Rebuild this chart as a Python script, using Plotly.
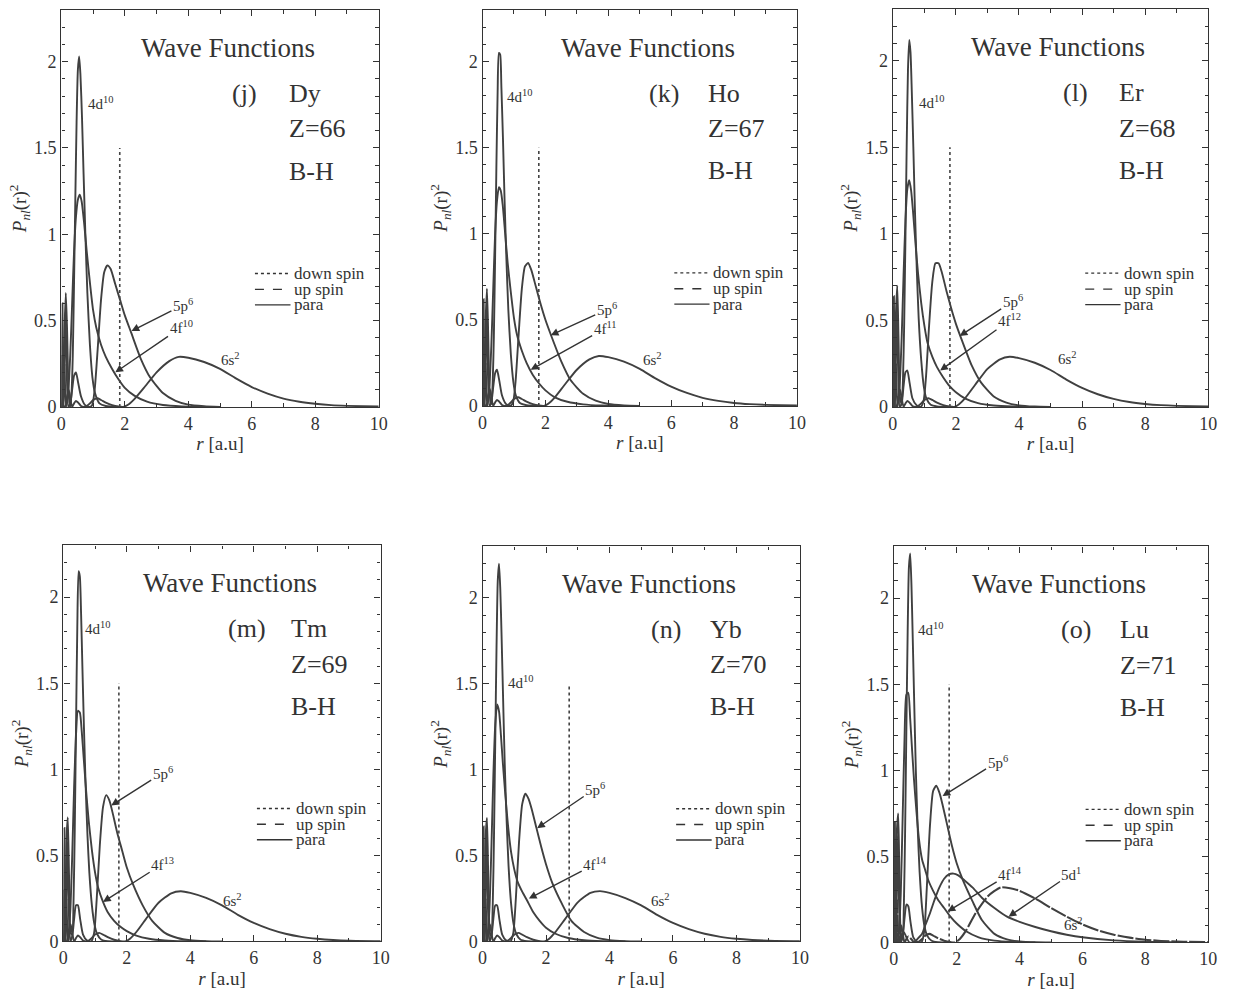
import plotly.graph_objects as go

W, H = 1237, 999

# ---------------- data ----------------
ELEMENTS = ["Dy", "Ho", "Er", "Tm", "Yb", "Lu"]
PANEL_TAGS = ["(j)", "(k)", "(l)", "(m)", "(n)", "(o)"]
Z_NUMBERS = [66, 67, 68, 69, 70, 71]
F_OCCUPATION = [10, 11, 12, 13, 14, 14]
MARKER_R = [1.84, 1.79, 1.81, 1.75, 2.73, 1.76]
MARKER_TOP = [1.5, 1.5, 1.5, 1.5, 1.5, 1.5]

X_TICKS = [0, 2, 4, 6, 8, 10]
Y_TICKS = [0, 0.5, 1, 1.5, 2]

# 4d^10
R_4D = [0.00, 0.05, 0.10, 0.14, 0.18, 0.23, 0.28, 0.32, 0.36, 0.40, 0.44, 0.48, 0.52,
        0.56, 0.60, 0.65, 0.70, 0.76, 0.82, 0.90, 0.98, 1.06, 1.20, 1.40, 1.80]
P4D_DY = [0, 0.05, 0.45, 0.66, 0.45, 0.08, 0.0, 0.08, 0.3, 0.72, 1.2, 1.65, 1.95,
          2.03, 1.93, 1.68, 1.35, 0.98, 0.66, 0.36, 0.17, 0.08, 0.02, 0.005, 0]
P4D_HO = [0, 0.06, 0.5, 0.68, 0.42, 0.06, 0.01, 0.12, 0.4, 0.86, 1.38, 1.82, 2.05,
          2.04, 1.85, 1.55, 1.2, 0.85, 0.56, 0.3, 0.14, 0.06, 0.015, 0.004, 0]
P4D_ER = [0, 0.07, 0.55, 0.7, 0.4, 0.05, 0.02, 0.15, 0.48, 0.98, 1.52, 1.95, 2.12,
          2.05, 1.83, 1.5, 1.14, 0.79, 0.51, 0.27, 0.12, 0.05, 0.012, 0.003, 0]
P4D_TM = [0, 0.08, 0.6, 0.72, 0.38, 0.05, 0.04, 0.22, 0.65, 1.25, 1.82, 2.15, 2.12,
          1.9, 1.6, 1.24, 0.92, 0.62, 0.4, 0.21, 0.1, 0.045, 0.01, 0.002, 0]
P4D_YB = [0, 0.08, 0.62, 0.72, 0.37, 0.05, 0.03, 0.2, 0.6, 1.15, 1.7, 2.1, 2.2,
          2.05, 1.78, 1.4, 1.03, 0.7, 0.44, 0.22, 0.1, 0.045, 0.01, 0.002, 0]
P4D_LU = [0, 0.09, 0.66, 0.75, 0.36, 0.05, 0.04, 0.22, 0.66, 1.25, 1.8, 2.18, 2.26,
          2.08, 1.78, 1.38, 1.0, 0.66, 0.41, 0.2, 0.09, 0.04, 0.01, 0.002, 0]

# 4f^n
R_4F = [0.00, 0.10, 0.16, 0.22, 0.28, 0.34, 0.40, 0.46, 0.52, 0.58, 0.64, 0.72, 0.80,
        0.90, 1.00, 1.10, 1.25, 1.40, 1.60, 1.80, 2.00, 2.30, 2.70, 3.20, 3.80, 4.50]
P4F_DY = [0, 0.0, 0.02, 0.1, 0.3, 0.6, 0.9, 1.1, 1.2, 1.23, 1.19, 1.06, 0.9,
          0.72, 0.56, 0.46, 0.36, 0.29, 0.22, 0.16, 0.11, 0.065, 0.03, 0.011, 0.003, 0]
P4F_HO = [0, 0.0, 0.025, 0.12, 0.35, 0.68, 1.0, 1.19, 1.27, 1.25, 1.17, 1.0, 0.83,
          0.66, 0.51, 0.41, 0.32, 0.25, 0.18, 0.13, 0.09, 0.05, 0.024, 0.009, 0.002, 0]
P4F_ER = [0, 0.0, 0.03, 0.14, 0.4, 0.76, 1.08, 1.26, 1.31, 1.25, 1.13, 0.94, 0.77,
          0.6, 0.47, 0.37, 0.29, 0.23, 0.17, 0.12, 0.085, 0.048, 0.022, 0.008, 0.002, 0]
P4F_TM = [0, 0.0, 0.04, 0.18, 0.5, 0.9, 1.2, 1.34, 1.33, 1.22, 1.07, 0.87, 0.7,
          0.53, 0.4, 0.31, 0.23, 0.17, 0.12, 0.085, 0.06, 0.034, 0.016, 0.006, 0.001, 0]
P4F_YB = [0, 0.0, 0.045, 0.2, 0.55, 0.96, 1.26, 1.38, 1.34, 1.2, 1.04, 0.85, 0.68,
          0.52, 0.42, 0.35, 0.29, 0.24, 0.17, 0.12, 0.08, 0.045, 0.02, 0.007, 0.002, 0]
P4F_LU = [0, 0.0, 0.06, 0.28, 0.72, 1.18, 1.44, 1.45, 1.3, 1.12, 0.95, 0.76, 0.6,
          0.48, 0.42, 0.36, 0.3, 0.25, 0.2, 0.15, 0.11, 0.065, 0.03, 0.011, 0.003, 0]

# 5p^6
R_5P = [0.00, 0.02, 0.035, 0.05, 0.07, 0.10, 0.13, 0.17, 0.22, 0.28, 0.34, 0.40, 0.46,
        0.53, 0.62, 0.75, 0.88, 0.97, 1.05, 1.15, 1.25, 1.35, 1.45, 1.55, 1.70, 1.85,
        2.00, 2.20, 2.50, 2.80, 3.20, 3.60, 4.00, 4.50, 5.00]
P5P_DY = [0, 0.35, 0.6, 0.2, 0.0, 0.3, 0.55, 0.2, 0.0, 0.02, 0.1, 0.18, 0.2,
          0.14, 0.06, 0.01, 0.0, 0.01, 0.1, 0.35, 0.62, 0.78, 0.82, 0.8, 0.71, 0.62,
          0.53, 0.43, 0.28, 0.17, 0.08, 0.035, 0.013, 0.004, 0]
P5P_HO = [0, 0.35, 0.62, 0.2, 0.0, 0.3, 0.56, 0.2, 0.0, 0.02, 0.11, 0.19, 0.21,
          0.15, 0.06, 0.01, 0.0, 0.02, 0.14, 0.42, 0.68, 0.81, 0.83, 0.79, 0.69, 0.59,
          0.5, 0.4, 0.26, 0.15, 0.07, 0.03, 0.011, 0.003, 0]
P5P_ER = [0, 0.36, 0.64, 0.2, 0.0, 0.31, 0.57, 0.2, 0.0, 0.02, 0.12, 0.2, 0.21,
          0.14, 0.05, 0.01, 0.0, 0.03, 0.17, 0.47, 0.72, 0.83, 0.83, 0.78, 0.67, 0.57,
          0.48, 0.38, 0.24, 0.14, 0.06, 0.025, 0.009, 0.002, 0]
P5P_TM = [0, 0.37, 0.66, 0.2, 0.0, 0.32, 0.58, 0.2, 0.0, 0.03, 0.13, 0.21, 0.21,
          0.13, 0.04, 0.005, 0.0, 0.05, 0.24, 0.56, 0.78, 0.85, 0.82, 0.75, 0.63, 0.53,
          0.43, 0.33, 0.21, 0.12, 0.05, 0.02, 0.007, 0.002, 0]
P5P_YB = [0, 0.37, 0.67, 0.2, 0.0, 0.33, 0.6, 0.2, 0.0, 0.03, 0.13, 0.21, 0.21,
          0.13, 0.04, 0.005, 0.0, 0.05, 0.25, 0.58, 0.8, 0.86, 0.83, 0.77, 0.66, 0.55,
          0.45, 0.34, 0.22, 0.12, 0.055, 0.022, 0.008, 0.002, 0]
P5P_LU = [0, 0.38, 0.7, 0.2, 0.0, 0.34, 0.62, 0.2, 0.0, 0.03, 0.14, 0.22, 0.21,
          0.12, 0.03, 0.003, 0.0, 0.07, 0.32, 0.68, 0.88, 0.91, 0.87, 0.8, 0.68, 0.56,
          0.46, 0.36, 0.24, 0.13, 0.05, 0.018, 0.006, 0.001, 0]

# 6s^2
R_6S = [0.00, 0.015, 0.03, 0.045, 0.06, 0.08, 0.10, 0.12, 0.15, 0.19,
        0.23, 0.28, 0.34, 0.40, 0.46, 0.53, 0.62, 0.72, 0.80, 0.90,
        1.00, 1.13, 1.25, 1.40, 1.60, 1.80, 1.95, 2.10, 2.30, 2.60,
        3.00, 3.40, 3.70, 4.00, 4.50, 5.00, 5.50, 6.00, 6.50, 7.00,
        7.50, 8.00, 8.50, 9.00, 10.0]
P6S_DY = [0, 0.15, 0.3, 0.05, 0.0, 0.12, 0.25, 0.1, 0.0, 0.06,
          0.1, 0.05, 0.0, 0.02, 0.035, 0.025, 0.005, 0.0, 0.005, 0.02,
          0.04, 0.05, 0.04, 0.025, 0.01, 0.002, 0.0, 0.012, 0.045, 0.11,
          0.2, 0.265, 0.29, 0.285, 0.26, 0.22, 0.165, 0.115, 0.077, 0.048,
          0.03, 0.018, 0.01, 0.006, 0.002]
P6S_HO = [0, 0.15, 0.3, 0.05, 0.0, 0.12, 0.25, 0.1, 0.0, 0.06,
          0.1, 0.05, 0.0, 0.02, 0.035, 0.025, 0.005, 0.0, 0.005, 0.02,
          0.04, 0.05, 0.04, 0.025, 0.01, 0.002, 0.0, 0.014, 0.05, 0.12,
          0.21, 0.27, 0.29, 0.283, 0.257, 0.215, 0.16, 0.112, 0.075, 0.047,
          0.029, 0.017, 0.01, 0.006, 0.002]
P6S_ER = [0, 0.15, 0.3, 0.05, 0.0, 0.12, 0.25, 0.1, 0.0, 0.06,
          0.1, 0.05, 0.0, 0.02, 0.035, 0.025, 0.005, 0.0, 0.005, 0.02,
          0.04, 0.05, 0.04, 0.025, 0.01, 0.002, 0.0, 0.015, 0.052, 0.125,
          0.22, 0.275, 0.29, 0.282, 0.255, 0.213, 0.158, 0.11, 0.073, 0.046,
          0.028, 0.017, 0.01, 0.006, 0.002]
P6S_TM = [0, 0.15, 0.3, 0.05, 0.0, 0.12, 0.25, 0.1, 0.0, 0.06,
          0.1, 0.05, 0.0, 0.02, 0.035, 0.025, 0.005, 0.0, 0.005, 0.02,
          0.04, 0.05, 0.04, 0.025, 0.01, 0.002, 0.0, 0.016, 0.055, 0.13,
          0.225, 0.28, 0.292, 0.282, 0.253, 0.21, 0.155, 0.108, 0.072, 0.045,
          0.027, 0.016, 0.009, 0.005, 0.002]
P6S_YB = [0, 0.15, 0.3, 0.05, 0.0, 0.12, 0.25, 0.1, 0.0, 0.06,
          0.1, 0.05, 0.0, 0.02, 0.035, 0.025, 0.005, 0.0, 0.005, 0.02,
          0.04, 0.05, 0.04, 0.025, 0.01, 0.002, 0.0, 0.016, 0.056, 0.13,
          0.228, 0.283, 0.293, 0.283, 0.253, 0.21, 0.155, 0.108, 0.072, 0.045,
          0.027, 0.016, 0.009, 0.005, 0.002]
P6S_LU = [0, 0.15, 0.3, 0.05, 0.0, 0.12, 0.25, 0.1, 0.0, 0.06,
          0.1, 0.05, 0.0, 0.02, 0.035, 0.025, 0.005, 0.0, 0.005, 0.02,
          0.04, 0.05, 0.04, 0.025, 0.01, 0.002, 0.0, 0.02, 0.07, 0.17,
          0.27, 0.32, 0.315, 0.3, 0.255, 0.2, 0.15, 0.105, 0.07, 0.045,
          0.028, 0.016, 0.009, 0.005, 0.002]

# 5d^1 (Lu only)
R_5D = [0.00, 0.03, 0.06, 0.10, 0.14, 0.20, 0.26, 0.32, 0.40, 0.50, 0.60, 0.70,
        0.80, 0.90, 1.00, 1.15, 1.30, 1.45, 1.60, 1.75, 1.90, 2.05, 2.25, 2.50,
        2.80, 3.20, 3.60, 4.00, 4.50, 5.00, 5.50, 6.00, 7.00, 8.00, 9.00]
P5D_LU = [0, 0.12, 0.02, 0.15, 0.05, 0.0, 0.04, 0.06, 0.03, 0.0, 0.0, 0.01,
          0.03, 0.05, 0.1, 0.17, 0.25, 0.32, 0.37, 0.395, 0.4, 0.39, 0.36, 0.32,
          0.26, 0.2, 0.15, 0.12, 0.09, 0.065, 0.045, 0.03, 0.012, 0.004, 0.001]

P4D = [P4D_DY, P4D_HO, P4D_ER, P4D_TM, P4D_YB, P4D_LU]
P4F = [P4F_DY, P4F_HO, P4F_ER, P4F_TM, P4F_YB, P4F_LU]
P5P = [P5P_DY, P5P_HO, P5P_ER, P5P_TM, P5P_YB, P5P_LU]
P6S = [P6S_DY, P6S_HO, P6S_ER, P6S_TM, P6S_YB, P6S_LU]

# ---------------- layout / styling ----------------
FONT = "Liberation Serif"
INK = "#333333"
CURVE = "#404040"

# subplot frames in page pixels (left, right, top, bottom)
FRAMES = [(57, 378, 10, 411), (483, 801, 10, 410), (898, 1217, 9, 411),
          (59, 380, 551, 951), (483, 804, 552, 951), (899, 1217, 552, 952)]

# label placements (data coordinates)
LBL_4D = [(0.77, 1.76), (0.70, 1.8), (0.77, 1.76), (0.63, 1.82), (0.74, 1.51), (0.71, 1.82)]
LBL_5P = [((3.83, 0.59), (2.21, 0.44)), ((3.95, 0.56), (2.17, 0.41)), ((3.8, 0.61), (2.12, 0.41)),
          ((3.13, 0.98), (1.51, 0.79)), ((3.55, 0.89), (1.72, 0.66)), ((3.3, 1.05), (1.55, 0.85))]
LBL_4F = [((3.77, 0.46), (1.70, 0.2)), ((3.9, 0.45), (1.53, 0.21)), ((3.7, 0.5), (1.5, 0.21)),
          ((3.13, 0.45), (1.25, 0.23)), ((3.55, 0.45), (1.46, 0.25)), ((3.7, 0.4), (1.71, 0.18))]
LBL_6S = [(5.34, 0.28), (5.42, 0.27), (5.55, 0.285), (5.33, 0.24), (5.6, 0.24), (5.7, 0.11)]
LBL_5D_LU = ((5.65, 0.4), (3.65, 0.15))

fig = go.Figure()
layout = dict(
    width=W, height=H, margin=dict(l=0, r=0, t=0, b=0),
    paper_bgcolor="white", plot_bgcolor="white", showlegend=False,
    font=dict(family=FONT, color=INK),
)
annotations = []
shapes = []


def sup_label(base, power):
    return f"{base}<sup>{power}</sup>"


for i in range(6):
    sfx = "" if i == 0 else str(i + 1)
    xr, yr = "x" + sfx, "y" + sfx
    left, right, top, bottom = FRAMES[i]

    line_style = dict(color=CURVE, width=1.9, shape="spline", smoothing=0.6)
    fig.add_trace(go.Scatter(x=R_4D, y=P4D[i], mode="lines", line=line_style,
                             xaxis=xr, yaxis=yr, hoverinfo="skip"))
    fig.add_trace(go.Scatter(x=R_4F, y=P4F[i], mode="lines", line=line_style,
                             xaxis=xr, yaxis=yr, hoverinfo="skip"))
    fig.add_trace(go.Scatter(x=R_5P, y=P5P[i], mode="lines", line=line_style,
                             xaxis=xr, yaxis=yr, hoverinfo="skip"))
    if ELEMENTS[i] == "Lu":
        fig.add_trace(go.Scatter(x=R_5D, y=P5D_LU, mode="lines", line=line_style,
                                 xaxis=xr, yaxis=yr, hoverinfo="skip"))
        fig.add_trace(go.Scatter(x=R_6S, y=P6S[i], mode="lines",
                                 line=dict(color=CURVE, width=2.1, shape="spline",
                                           smoothing=0.6, dash="16px,2px"),
                                 xaxis=xr, yaxis=yr, hoverinfo="skip"))
    else:
        fig.add_trace(go.Scatter(x=R_6S, y=P6S[i], mode="lines", line=line_style,
                                 xaxis=xr, yaxis=yr, hoverinfo="skip"))
    # dotted marker line
    fig.add_trace(go.Scatter(x=[MARKER_R[i], MARKER_R[i]], y=[0, MARKER_TOP[i]], mode="lines",
                             line=dict(color="#444", width=1.6, dash="dot"),
                             xaxis=xr, yaxis=yr, hoverinfo="skip"))

    axis_common = dict(
        ticks="inside", tickcolor=INK, tickwidth=1.1, ticklen=6,
        mirror="allticks", showline=True, linecolor=INK, linewidth=1.4,
        showgrid=False, zeroline=False,
        tickfont=dict(family=FONT, size=18, color=INK),
    )
    layout["xaxis" + sfx] = dict(
        domain=[left / W, right / W], anchor=yr, range=[0, 10], tickvals=X_TICKS,
        minor=dict(dtick=1, ticks="inside", ticklen=3.5, tickcolor=INK),
        title=dict(text="<i>r</i> [a.u]", font=dict(family=FONT, size=19, color=INK), standoff=4),
        **axis_common)
    layout["yaxis" + sfx] = dict(
        domain=[1 - bottom / H, 1 - top / H], anchor=xr, range=[0, 2.3], tickvals=Y_TICKS,
        minor=dict(dtick=0.1, ticks="inside", ticklen=3.5, tickcolor=INK),
        title=dict(text="<i>P</i><sub><i>nl</i></sub>(r)<sup>2</sup>",
                   font=dict(family=FONT, size=19, color=INK), standoff=2),
        **axis_common)

    xd, yd = xr + " domain", yr + " domain"
    big = dict(family=FONT, size=26, color=INK)
    annotations += [
        dict(text="Wave Functions", x=0.525, y=0.905, xref=xd, yref=yd, showarrow=False,
             font=dict(family=FONT, size=27, color=INK), xanchor="center", yanchor="middle"),
        dict(text=PANEL_TAGS[i], x=0.578, y=0.79, xref=xd, yref=yd, showarrow=False,
             font=big, xanchor="center", yanchor="middle"),
        dict(text=ELEMENTS[i], x=0.712, y=0.79, xref=xd, yref=yd, showarrow=False,
             font=big, xanchor="left", yanchor="middle"),
        dict(text=f"Z={Z_NUMBERS[i]}", x=0.712, y=0.7, xref=xd, yref=yd, showarrow=False,
             font=big, xanchor="left", yanchor="middle"),
        dict(text="B-H", x=0.712, y=0.594, xref=xd, yref=yd, showarrow=False,
             font=big, xanchor="left", yanchor="middle"),
    ]
    # legend (line samples + text)
    leg_rows = [(0.336, "dot", "down spin"), (0.296, "dash", "up spin"), (0.257, "solid", "para")]
    for yy, dash, txt in leg_rows:
        shapes.append(dict(type="line", xref=xd, yref=yd, x0=0.61, x1=0.722, y0=yy, y1=yy,
                           line=dict(color=INK, width=1.4, dash=dash)))
        annotations.append(dict(text=txt, x=0.726, y=yy, xref=xd, yref=yd, showarrow=False,
                                font=dict(family=FONT, size=17, color=INK),
                                xanchor="left", yanchor="middle"))

    small = dict(family=FONT, size=15, color=INK)
    arrow = dict(showarrow=True, arrowhead=2, arrowsize=1.1, arrowwidth=1.4, arrowcolor=INK,
                 axref=xr, ayref=yr, xref=xr, yref=yr)
    annotations.append(dict(text=sup_label("4d", 10), x=LBL_4D[i][0], y=LBL_4D[i][1],
                            xref=xr, yref=yr, showarrow=False, font=small, xanchor="left"))
    (tx, ty), (hx, hy) = LBL_5P[i]
    annotations.append(dict(text=sup_label("5p", 6), x=hx, y=hy, ax=tx, ay=ty, font=small, **arrow))
    (tx, ty), (hx, hy) = LBL_4F[i]
    annotations.append(dict(text=sup_label("4f", F_OCCUPATION[i]), x=hx, y=hy, ax=tx, ay=ty,
                            font=small, **arrow))
    annotations.append(dict(text=sup_label("6s", 2), x=LBL_6S[i][0], y=LBL_6S[i][1],
                            xref=xr, yref=yr, showarrow=False, font=small))
    if ELEMENTS[i] == "Lu":
        (tx, ty), (hx, hy) = LBL_5D_LU
        annotations.append(dict(text=sup_label("5d", 1), x=hx, y=hy, ax=tx, ay=ty,
                                font=small, **arrow))

layout["annotations"] = annotations
layout["shapes"] = shapes
fig.update_layout(**layout)
fig.write_html("out.html")
